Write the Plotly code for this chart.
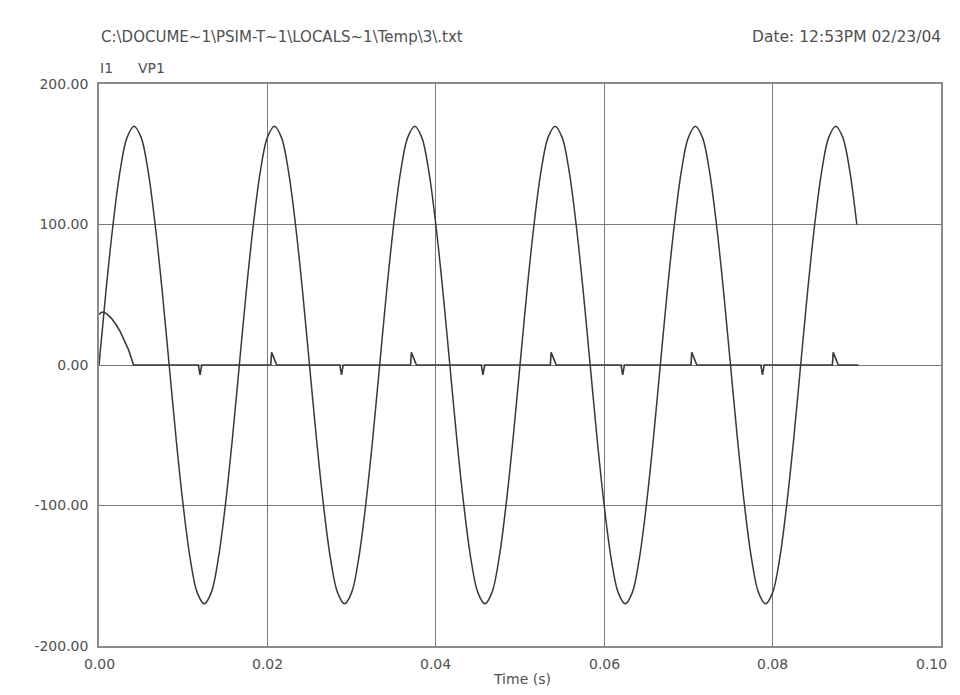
import plotly.graph_objects as go

# ---- data ----
# VP1 sampled every 1/1200 s (t = 0 ... 0.09 s)
vp1_dt = 1.0 / 1200
vp1_values = [
    0, 53, 100, 138, 162, 170, 162, 138, 100, 53, 0, -53, -100, -138, -162, -170, -162, -138, -100, -53,
    0, 53, 100, 138, 162, 170, 162, 138, 100, 53, 0, -53, -100, -138, -162, -170, -162, -138, -100, -53,
    0, 53, 100, 138, 162, 170, 162, 138, 100, 53, 0, -53, -100, -138, -162, -170, -162, -138, -100, -53,
    0, 53, 100, 138, 162, 170, 162, 138, 100, 53, 0, -53, -100, -138, -162, -170, -162, -138, -100, -53,
    0, 53, 100, 138, 162, 170, 162, 138, 100, 53, 0, -53, -100, -138, -162, -170, -162, -138, -100, -53,
    0, 53, 100, 138, 162, 170, 162, 138, 100,
]

# I1 current
i1_time = [
    0.0, 0.0003, 0.0006, 0.001, 0.0015, 0.002, 0.0025, 0.003, 0.0035, 0.004, 0.0041,
    0.0118, 0.0120, 0.0122,
    0.0204, 0.0205, 0.0208, 0.0211,
    0.0286, 0.0288, 0.0290,
    0.0370, 0.0371, 0.0374, 0.0377,
    0.0454, 0.0456, 0.0458,
    0.0536, 0.0537, 0.0540, 0.0543,
    0.0620, 0.0622, 0.0624,
    0.0703, 0.0704, 0.0707, 0.0710,
    0.0786, 0.0788, 0.0790,
    0.0871, 0.0872, 0.0875, 0.0878,
    0.0902,
]
i1_values = [
    36, 37.5, 37.5, 36, 33, 29, 24, 18, 11, 2, 0,
    0, -7, 0,
    0, 9, 4, 0,
    0, -7, 0,
    0, 9, 4, 0,
    0, -7, 0,
    0, 9, 4, 0,
    0, -7, 0,
    0, 9, 4, 0,
    0, -7, 0,
    0, 9, 4, 0,
    0,
]

x_ticks = [0.0, 0.02, 0.04, 0.06, 0.08, 0.10]
x_tick_labels = ["0.00", "0.02", "0.04", "0.06", "0.08", "0.10"]
y_ticks = [-200, -100, 0, 100, 200]
y_tick_labels = ["-200.00", "-100.00", "0.00", "100.00", "200.00"]

title_text = "C:\\DOCUME~1\\PSIM-T~1\\LOCALS~1\\Temp\\3\\.txt"
date_text = "Date: 12:53PM 02/23/04"
legend_names = ["I1", "VP1"]
x_title = "Time (s)"

# ---- figure ----
line_col = "#383838"
grid_col = "#7a7a7a"
text_col = "#505050"
font_fam = "DejaVu Sans, Verdana, sans-serif"

fig = go.Figure()
fig.add_trace(go.Scatter(
    x0=0, dx=vp1_dt, y=vp1_values, mode="lines", name=legend_names[1],
    line=dict(color=line_col, width=1.5, shape="spline", smoothing=1.0),
))
fig.add_trace(go.Scatter(
    x=i1_time, y=i1_values, mode="lines", name=legend_names[0],
    line=dict(color=line_col, width=1.6),
))

axis_common = dict(
    showgrid=True, gridcolor=grid_col, gridwidth=1,
    showline=True, linecolor="#8a8a8a", linewidth=1.5, mirror=True,
    zeroline=False, ticks="", tickfont=dict(family=font_fam, size=14, color=text_col),
)
# x tick labels are drawn as annotations (so the last one can stay inside the page)
fig.update_xaxes(range=[0, 0.10], tickvals=x_ticks, showticklabels=False, **axis_common)
fig.update_yaxes(range=[-200, 200], tickvals=y_ticks, ticktext=y_tick_labels,
                 ticklabelstandoff=6, **axis_common)

for i, (xv, lab) in enumerate(zip(x_ticks, x_tick_labels)):
    last = i == len(x_ticks) - 1
    fig.add_annotation(text=lab, xref="x", yref="paper", x=xv, y=0, yshift=-18,
                       xshift=8 if last else 0,
                       xanchor="right" if last else "center", yanchor="middle",
                       showarrow=False, font=dict(family=font_fam, size=14, color=text_col))

fig.add_annotation(text=x_title, xref="paper", yref="paper", x=0.502, y=0, yshift=-33,
                   xanchor="center", yanchor="middle", showarrow=False,
                   font=dict(family=font_fam, size=14, color=text_col))
fig.add_annotation(text=title_text, xref="paper", yref="paper", x=0, xshift=0, y=1, yshift=47,
                   xanchor="left", yanchor="middle", showarrow=False,
                   font=dict(family=font_fam, size=15, color=text_col))
fig.add_annotation(text=date_text, xref="paper", yref="paper", x=1, xshift=2, y=1, yshift=47,
                   xanchor="right", yanchor="middle", showarrow=False,
                   font=dict(family=font_fam, size=15.5, color=text_col))
fig.add_annotation(text=legend_names[0], xref="paper", yref="paper", x=0, xshift=-1, y=1, yshift=16,
                   xanchor="left", yanchor="middle", showarrow=False,
                   font=dict(family=font_fam, size=14, color=text_col))
fig.add_annotation(text=legend_names[1], xref="paper", yref="paper", x=0, xshift=37, y=1, yshift=16,
                   xanchor="left", yanchor="middle", showarrow=False,
                   font=dict(family=font_fam, size=14, color=text_col))

# page body keeps its default 8px margin, so the figure is 944x679 to fit 960x695
fig.update_layout(
    width=944, height=679, autosize=False,
    margin=dict(l=91, r=9, t=76, b=41),
    paper_bgcolor="white", plot_bgcolor="white",
    showlegend=False,
    font=dict(family=font_fam),
)

fig.write_html("out.html", config={"responsive": False, "displayModeBar": False})
